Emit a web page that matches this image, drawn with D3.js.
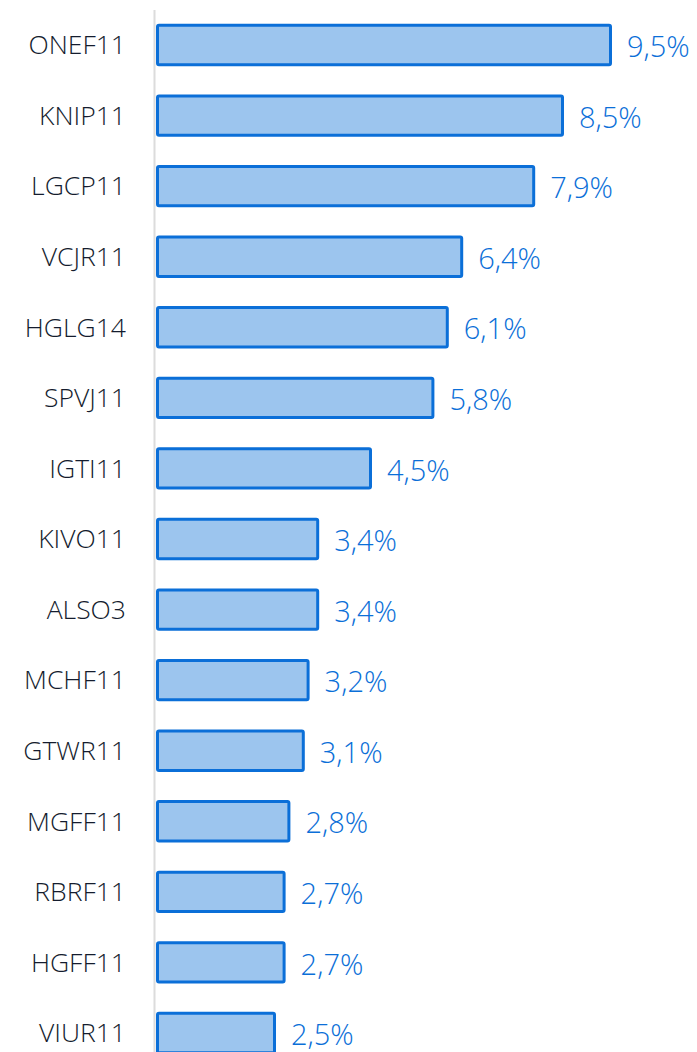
<!DOCTYPE html>
<html>
<head>
<meta charset="utf-8">
<script src="https://cdn.jsdelivr.net/npm/d3@7"></script>
<style>
  html, body { margin: 0; padding: 0; background: #fff; overflow: hidden; }
</style>
</head>
<body>
<svg id="chart" width="697" height="1052"></svg>
<script>
const tickers = ["ONEF11","KNIP11","LGCP11","VCJR11","HGLG14","SPVJ11","IGTI11","KIVO11","ALSO3","MCHF11","GTWR11","MGFF11","RBRF11","HGFF11","VIUR11"];
const weights = [9.5, 8.5, 7.9, 6.4, 6.1, 5.8, 4.5, 3.4, 3.4, 3.2, 3.1, 2.8, 2.7, 2.7, 2.5];

const svg = d3.select("#chart");
const fontFamily = "'Open Sans', Lato, sans-serif";

const x = d3.scaleLinear()
  .domain([0, 9.5])
  .range([156, 612]);

const y = d3.scaleBand()
  .domain(tickers)
  .range([9.7, 1068.3])
  .paddingInner(0.4)
  .paddingOuter(0.2);

const data = tickers.map((t, i) => ({ticker: t, value: weights[i]}));

// axe vertical gris
svg.append("line")
  .attr("x1", 154.5).attr("x2", 154.5)
  .attr("y1", 10).attr("y2", 1052)
  .attr("stroke", "#dcdcdc")
  .attr("stroke-width", 2);

// barres
svg.append("g")
  .selectAll("rect")
  .data(data)
  .join("rect")
    .attr("x", x(0) + 1.5)
    .attr("y", d => y(d.ticker) + 1.5)
    .attr("width", d => x(d.value) - x(0) - 3)
    .attr("height", y.bandwidth() - 3)
    .attr("rx", 1.5)
    .attr("fill", "#9cc5ee")
    .attr("stroke", "#0b6fd8")
    .attr("stroke-width", 3);

// etiquettes
svg.append("g")
  .attr("font-family", fontFamily)
  .attr("font-weight", 300)
  .attr("font-size", 26.5)
  .attr("fill", "#141c2e")
  .attr("text-anchor", "end")
  .selectAll("text")
  .data(data)
  .join("text")
    .attr("x", 126)
    .attr("y", d => y(d.ticker) + y.bandwidth() / 2)
    .attr("dy", "0.35em")
    .text(d => d.ticker);

// valeurs
const fmt = v => d3.format(".1f")(v).replace(".", ",") + "%";
svg.append("g")
  .attr("font-family", fontFamily)
  .attr("font-weight", 300)
  .attr("font-size", 29)
  .attr("fill", "#0b6fd8")
  .selectAll("text")
  .data(data)
  .join("text")
    .attr("x", d => x(d.value) + 15)
    .attr("y", d => y(d.ticker) + y.bandwidth() / 2 + 2)
    .attr("dy", "0.35em")
    .text(d => fmt(d.value));
</script>
</body>
</html>
